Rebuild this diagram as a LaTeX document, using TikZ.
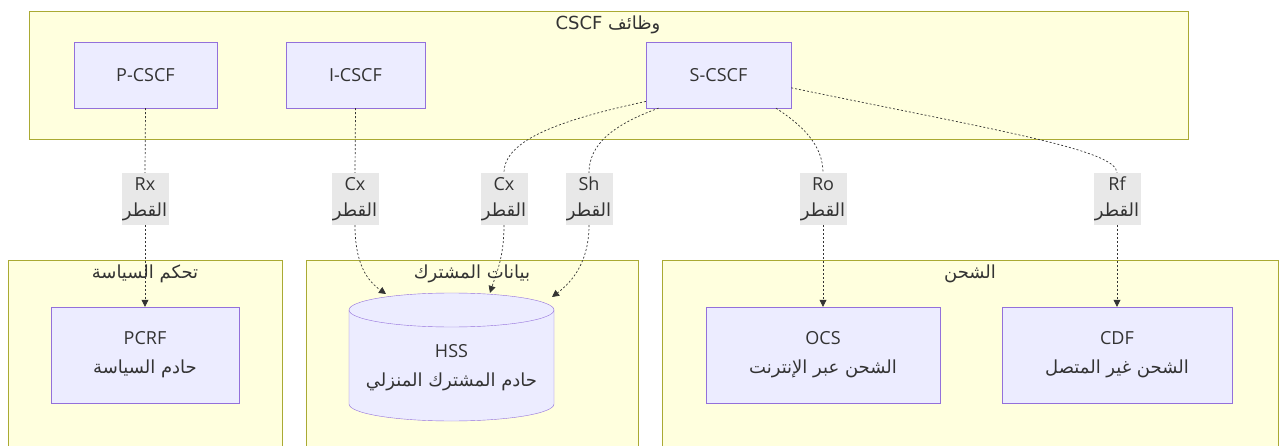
\documentclass[tikz,border=0pt]{standalone}
\usepackage{fontspec}
\setmainfont{Open Sans}
\newfontfamily\arabicfont[Script=Arabic]{DejaVu Sans}
\TeXXeTstate=1
\usetikzlibrary{arrows.meta}
\definecolor{clusterfill}{HTML}{FFFFDE}
\definecolor{clusterline}{HTML}{AAAA33}
\definecolor{boxfill}{HTML}{ECECFF}
\definecolor{boxline}{HTML}{9370DB}
\definecolor{labelgrey}{HTML}{E8E8E8}
\definecolor{textgrey}{HTML}{333333}
\newcommand{\artext}[1]{{\arabicfont\beginR #1\endR}}
\begin{document}
\begin{tikzpicture}[x=1pt,y=-1pt,font=\fontsize{18}{21}\selectfont,text=textgrey]
  \tikzstyle{cluster}=[draw=clusterline, fill=clusterfill, inner sep=0pt]
  \tikzstyle{box}=[draw=boxline, fill=boxfill, inner sep=0pt, minimum height=66pt, align=center]
  \tikzstyle{linelabel}=[fill=labelgrey, inner sep=0pt, minimum width=47pt, minimum height=52pt, align=center]
  \tikzstyle{link}=[draw=textgrey, line width=0.7pt, dash pattern=on 2pt off 2pt]
  \tikzstyle{linkarrow}=[link, -{Triangle[length=7pt,width=7pt]}]
  \useasboundingbox (0,0) rectangle (1279,446);
  % groups
  \node[cluster, minimum width=1159pt, minimum height=128pt] (cscf) at (608.5,75) {};
  \node (cscftitle) at (608,25) {\artext{وظائف \beginL CSCF\endL}};
  \node[cluster, minimum width=274pt, minimum height=190pt] (policy) at (145,355) {};
  \node (policytitle) at (145,274) {\artext{تحكم السياسة}};
  \node[cluster, minimum width=332pt, minimum height=190pt] (subscriber) at (472,355) {};
  \node (subscribertitle) at (472,274) {\artext{بيانات المشترك}};
  \node[cluster, minimum width=616pt, minimum height=190pt] (charging) at (970,355) {};
  \node (chargingtitle) at (970,274) {\artext{الشحن}};
  % functions
  \node[box, minimum width=143pt] (PCSCF) at (145.5,75) {P-CSCF};
  \node[box, minimum width=139pt] (ICSCF) at (355.5,75) {I-CSCF};
  \node[box, minimum width=145pt] (SCSCF) at (718.5,75) {S-CSCF};
  \node[box, minimum width=188pt, minimum height=96pt] (PCRF) at (145,355) {PCRF\\[8pt]\artext{حادم السياسة}};
  % database drum
  \path[draw=boxline, fill=boxfill] (349,310) -- (349,404)
    arc[start angle=180, end angle=0, x radius=102.5, y radius=17] -- (554,310)
    arc[start angle=0, end angle=-180, x radius=102.5, y radius=17] -- cycle;
  \draw[boxline] (349,310) arc[start angle=180, end angle=0, x radius=102.5, y radius=17];
  \node[align=center, inner sep=0pt] (HSS) at (451.5,368) {HSS\\[8pt]\artext{حادم المشترك المنزلي}};
  \node[box, minimum width=234pt, minimum height=96pt] (OCS) at (823,355) {OCS\\[8pt]\artext{الشحن عبر الإنترنت}};
  \node[box, minimum width=230pt, minimum height=96pt] (CDF) at (1117,355) {CDF\\[8pt]\artext{الشحن غير المتصل}};
  \coordinate (hssA) at (386,294);
  \coordinate (hssB) at (490,293);
  \coordinate (hssC) at (552,297);
  % interfaces
  \node[linelabel] (lblRx) at (145,199) {Rx\\[5pt]\artext{القطر}};
  \node[linelabel] (lblCxA) at (355,199) {Cx\\[5pt]\artext{القطر}};
  \node[linelabel] (lblCxB) at (504,199) {Cx\\[5pt]\artext{القطر}};
  \node[linelabel] (lblSh) at (589,199) {Sh\\[5pt]\artext{القطر}};
  \node[linelabel] (lblRo) at (823,199) {Ro\\[5pt]\artext{القطر}};
  \node[linelabel] (lblRf) at (1117,199) {Rf\\[5pt]\artext{القطر}};
  \draw[link] (PCSCF.south) -- (lblRx.north);
  \draw[linkarrow] (lblRx.south) -- (PCRF.north);
  \draw[link] (ICSCF.south) -- (lblCxA.north);
  \draw[linkarrow] (lblCxA.south) .. controls (355,262) and (366,280) .. (hssA);
  \draw[link] (SCSCF.200) .. controls (560,120) and (504,140) .. (lblCxB.north);
  \draw[linkarrow] (lblCxB.south) .. controls (504,258) and (496,274) .. (hssB);
  \draw[link] (SCSCF.209) .. controls (612,125) and (589,145) .. (lblSh.north);
  \draw[linkarrow] (lblSh.south) .. controls (589,262) and (572,282) .. (hssC);
  \draw[link] (SCSCF.330) .. controls (802,125) and (823,145) .. (lblRo.north);
  \draw[linkarrow] (lblRo.south) -- (OCS.north);
  \draw[link] (SCSCF.350) .. controls (1000,131) and (1117,150) .. (lblRf.north);
  \draw[linkarrow] (lblRf.south) -- (CDF.north);
\end{tikzpicture}
\end{document}
